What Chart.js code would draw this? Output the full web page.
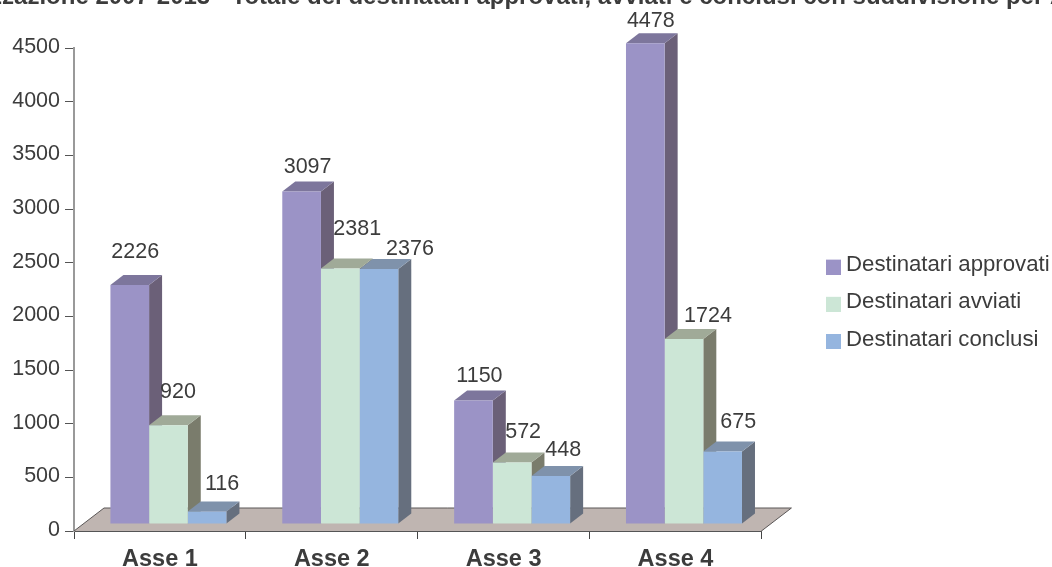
<!DOCTYPE html>
<html><head><meta charset="utf-8">
<style>html,body{margin:0;padding:0;background:#fff;overflow:hidden}canvas{display:block}</style>
<script src="https://cdn.jsdelivr.net/npm/chart.js@4/dist/chart.umd.js"></script></head>
<body><div style="width:1052px;height:567px;position:relative"><canvas id="c"></canvas></div>
<script>
const categories = ["Asse 1","Asse 2","Asse 3","Asse 4"];
const approvati = [2226,3097,1150,4478];
const avviati = [920,2381,572,1724];
const conclusi = [116,2376,448,675];
const seriesNames = ["Destinatari approvati","Destinatari avviati","Destinatari conclusi"];
const titleText = "Realizzazione 2007-2013 - Totale dei destinatari approvati, avviati e conclusi con suddivisione per Asse";
const yTicks = [0,500,1000,1500,2000,2500,3000,3500,4000,4500];

// value-label nudges from the bar's front-top centre (hand-placed in the reference)
const labelNudgeX = [[5.5,6,6,5.5],[9.5,17,11,24],[15,31,12.5,15.5]];
const labelNudgeY = [[-33,-25,-24,-22],[-33,-39,-31,-23],[-27.5,-20,-26,-29]];

const FACE = ["#9b93c6","#cce6d6","#95b5df"];
const TOP = ["#7d769c","#a0aa98","#7f92ab"];
const SIDE = ["#6b6078","#7a7c6c","#666f7e"];
const DX = 8.5, DY = -7, SX = 13, SY = -10;
const TXT = "#3c3c3c";
const FONT = "Liberation Sans";

function swatch(color){
  const c=document.createElement("canvas");c.width=15;c.height=19;
  const g=c.getContext("2d");g.fillStyle=color;g.fillRect(0,4,15,15);
  return c;
}
const swatches = FACE.map(swatch);

const threeD = {
  id:"threeD",
  beforeDatasetsDraw(chart){
    const {ctx,chartArea:a} = chart;
    const y0 = a.bottom;
    ctx.save();
    ctx.fillStyle="#bfb5b1";
    ctx.beginPath();
    ctx.moveTo(a.left,y0);ctx.lineTo(a.left+30,y0-23);ctx.lineTo(a.right+30,y0-23);ctx.lineTo(a.right,y0);ctx.closePath();ctx.fill();
    ctx.strokeStyle="#5a5656";ctx.lineWidth=1;
    ctx.beginPath();ctx.moveTo(a.left,y0);ctx.lineTo(a.left+30,y0-23);ctx.lineTo(a.right+30,y0-23);ctx.lineTo(a.right,y0);ctx.stroke();
    chart.data.datasets.forEach((d,i)=>{
      chart.getDatasetMeta(i).data.forEach(b=>{
        const x0=b.x-b.width/2+DX,x1=b.x+b.width/2+DX,yt=b.y+DY,yb=b.base+DY;
        ctx.fillStyle=SIDE[i];
        ctx.beginPath();ctx.moveTo(x1,yt);ctx.lineTo(x1+SX,yt+SY);ctx.lineTo(x1+SX,yb+SY);ctx.lineTo(x1,yb);ctx.closePath();ctx.fill();
        ctx.fillStyle=TOP[i];
        ctx.beginPath();ctx.moveTo(x0,yt);ctx.lineTo(x0+SX,yt+SY);ctx.lineTo(x1+SX,yt+SY);ctx.lineTo(x1,yt);ctx.closePath();ctx.fill();
      });
    });
    ctx.restore();
  },
  beforeDatasetDraw(chart){ chart.ctx.save(); chart.ctx.translate(DX,DY); },
  afterDatasetDraw(chart){ chart.ctx.restore(); },
  afterDatasetsDraw(chart){
    const {ctx} = chart;
    ctx.save();
    ctx.font="21.5px '"+FONT+"'";ctx.fillStyle=TXT;ctx.textAlign="center";ctx.textBaseline="middle";
    chart.data.datasets.forEach((d,i)=>{
      chart.getDatasetMeta(i).data.forEach((b,j)=>{
        ctx.fillText(String(d.data[j]), b.x+DX+labelNudgeX[i][j], b.y+DY+labelNudgeY[i][j]);
      });
    });
    ctx.restore();
  },
  afterLayout(chart){
    const l=chart.legend; const p=l.options.labels.padding;
    l.left=832-p; l.top=239; l.right=1100; l.bottom=567;
    const t=chart.titleBlock; t.top=-17.5; t.left=-280; t.right=1320;
  }
};
const mk=(i,data)=>({label:seriesNames[i],data,backgroundColor:FACE[i],borderWidth:0,barPercentage:1,categoryPercentage:0.675});
new Chart(document.getElementById("c"),{
  type:"bar",
  data:{labels:categories,datasets:[mk(0,approvati),mk(1,avviati),mk(2,conclusi)]},
  plugins:[threeD],
  options:{
    responsive:true,maintainAspectRatio:false,animation:false,
    layout:{padding:{top:0,right:48,bottom:0,left:0}},
    plugins:{
      tooltip:{enabled:false},
      title:{display:true,text:titleText,color:TXT,font:{family:FONT,size:24,weight:"bold"},padding:{top:0,bottom:19.2}},
      legend:{position:"right",align:"start",labels:{boxWidth:15,boxHeight:15,padding:15,color:TXT,font:{family:FONT,size:22.2},usePointStyle:true,pointStyleWidth:3,
        generateLabels(chart){
          return Chart.defaults.plugins.legend.labels.generateLabels(chart).map((it,i)=>Object.assign(it,{pointStyle:swatches[i]}));
        }}}
    },
    scales:{
      x:{afterFit(s){s.height=36;},grid:{display:true,drawOnChartArea:false,offset:true,tickLength:8,tickColor:"#444",tickWidth:1},border:{color:"#555",width:2},ticks:{color:TXT,font:{family:FONT,size:23.5,weight:"bold"},padding:6,maxRotation:0}},
      y:{min:0,max:4500,afterFit(s){s.width=74;},afterBuildTicks(s){s.ticks=yTicks.map(v=>({value:v}));},grid:{display:true,drawOnChartArea:false,tickLength:9,tickColor:"#555",tickWidth:1},border:{color:"#999",width:2},ticks:{color:TXT,font:{family:FONT,size:21.5},padding:5,labelOffset:-1,autoSkip:false,callback:v=>String(v)}}
    }
  }
});
</script></body></html>
